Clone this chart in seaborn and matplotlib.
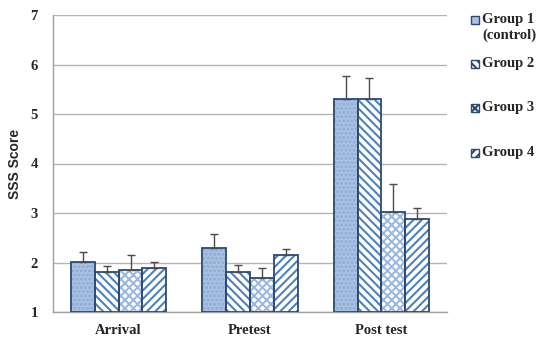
import matplotlib
matplotlib.use("Agg")
import matplotlib.pyplot as plt
import seaborn as sns
import pandas as pd
import numpy as np
from matplotlib.patches import Rectangle

categories = ["Arrival", "Pretest", "Post test"]
groups = ["Group 1\n(control)", "Group 2", "Group 3", "Group 4"]
g1 = [2.02, 2.30, 5.30]
g2 = [1.80, 1.80, 5.31]
g3 = [1.85, 1.68, 3.02]
g4 = [1.88, 2.15, 2.88]
e1 = [0.20, 0.28, 0.47]
e2 = [0.13, 0.14, 0.42]
e3 = [0.30, 0.21, 0.56]
e4 = [0.13, 0.12, 0.23]

vals = [g1, g2, g3, g4]
errs = [e1, e2, e3, e4]
rows = []
for gi, g in enumerate(groups):
    for ci, c in enumerate(categories):
        rows.append({"cat": c, "group": g, "score": vals[gi][ci], "err": errs[gi][ci]})
df = pd.DataFrame(rows)

sns.set_theme(style="white")
plt.rcParams['font.family'] = ['Liberation Serif', 'DejaVu Serif']
plt.rcParams['hatch.linewidth'] = 1.5

W, H = 537, 341
fig = plt.figure(figsize=(W / 100, H / 100), dpi=100)
ax = fig.add_axes([53 / W, 1 - 312 / H, (447 - 53) / W, (312 - 15) / H])

edge = "#2b4a74"
fills = ["#a9c1e2", "white", "white", "white"]
hatches = ["....", "\\\\\\\\", "xxxx", "////"]
hatch_cols = ["#8eaad3", "#4f81bd", "#9db8de", "#4f81bd"]
palette = dict(zip(groups, fills))

sns.barplot(data=df, x="cat", y="score", hue="group", order=categories,
            hue_order=groups, palette=palette, errorbar=None, width=0.724,
            ax=ax, legend=False, saturation=1)

bar_conts = list(ax.containers)
for gi, cont in enumerate(bar_conts):
    for ci, bar in enumerate(cont):
        h = vals[gi][ci] - 1
        bar.set_y(1)
        bar.set_height(h)
        bar.set_facecolor(fills[gi])
        bar.set_hatch(hatches[gi])
        bar.set_edgecolor(hatch_cols[gi])
        bar.set_linewidth(0)
        ax.add_patch(Rectangle((bar.get_x(), 1), bar.get_width(), h,
                               fill=False, edgecolor=edge, linewidth=1.3, zorder=3))
        xc = bar.get_x() + bar.get_width() / 2
        ax.errorbar([xc], [vals[gi][ci]], yerr=[[0], [errs[gi][ci]]], fmt="none",
                    ecolor="#4a4a4a", elinewidth=1.0, capsize=3, capthick=1.0, zorder=4)

ax.set_ylim(1, 7)
ax.set_xlim(-0.5, 2.5)
ax.set_yticks(range(1, 8))
ax.yaxis.grid(True, color="#b5b5b5", linewidth=1.0)
ax.set_axisbelow(True)
for s in ["top", "right"]:
    ax.spines[s].set_visible(False)
for s in ["left", "bottom"]:
    ax.spines[s].set_color("#a0a0a0")
    ax.spines[s].set_linewidth(1.0)
ax.set_xlabel("")
ax.set_ylabel("SSS Score", family=["Liberation Sans"], fontweight="bold",
              fontsize=10, labelpad=6)
ax.tick_params(axis="x", which="major", labelsize=10.5, length=0, pad=9)
ax.tick_params(axis="y", which="major", labelsize=10.5, length=3, pad=8,
               color="#a0a0a0", width=1, direction="out")
for t in ax.get_xticklabels() + ax.get_yticklabels():
    t.set_fontweight("bold")
ax.set_xticks([-0.5, 0.5, 1.5, 2.5], minor=True)
ax.tick_params(axis="x", which="minor", length=4, color="#a0a0a0", width=1)

# legend (drawn manually to match the original layout)
ys = [20, 64, 108, 153]
for gi in range(4):
    yc = 1 - ys[gi] / H
    sq = 8
    fig.patches.append(Rectangle((471 / W, yc - sq / 2 / H), sq / W, sq / H,
                                 transform=fig.transFigure, facecolor=fills[gi],
                                 hatch=hatches[gi] if gi else None,
                                 edgecolor=edge, linewidth=1.0))
    fig.text(482 / W, yc + 7 / H, groups[gi], ha="left", va="top",
             fontsize=10.5, fontweight="bold", linespacing=1.25)

fig.savefig("out.png", dpi=100)
